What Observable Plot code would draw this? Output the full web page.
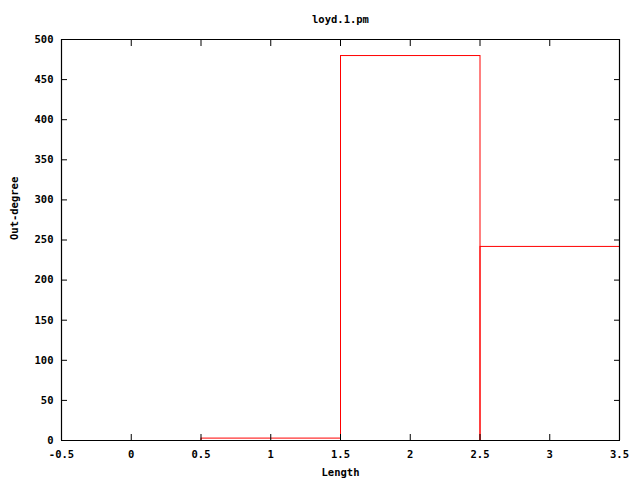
<!DOCTYPE html>
<html>
<head>
<meta charset="utf-8">
<script src="https://cdn.jsdelivr.net/npm/d3@7"></script>
<script src="https://cdn.jsdelivr.net/npm/@observablehq/plot@0.6"></script>
<style>
  body { margin: 0; background: #fff; }
  svg { font-family: "DejaVu Sans Mono", monospace; font-weight: bold; }
</style>
</head>
<body>
<div id="chart"></div>
<script>
const title = "loyd.1.pm";
const lengths = [1, 2, 3];
const outDegree = [3, 480, 242];
const xTicks = [-0.5, 0, 0.5, 1, 1.5, 2, 2.5, 3, 3.5];
const yTicks = [0, 50, 100, 150, 200, 250, 300, 350, 400, 450, 500];

const data = lengths.map((l, i) => ({length: l, value: outDegree[i]}));
const fmt = d => String(d);
const font = {fontSize: 10.5, fontWeight: "bold", fontFamily: "DejaVu Sans Mono, monospace", fill: "black"};

const chart = Plot.plot({
  width: 640,
  height: 480,
  marginLeft: 61,
  marginRight: 21,
  marginTop: 39,
  marginBottom: 40,
  style: {background: "white", fontFamily: "DejaVu Sans Mono, monospace", fontSize: "10px", fontWeight: "bold"},
  x: {domain: [-0.5, 3.5], label: null},
  y: {domain: [0, 500], label: null},
  marks: [
    Plot.rect(data, {x1: d => d.length - 0.5, x2: d => d.length + 0.5, y1: 0, y2: "value", stroke: "red", fill: "none", strokeWidth: 1, dx: 0.5, dy: 0.5}),
    Plot.ruleX([-0.5, 3.5], {stroke: "black", strokeWidth: 1.2}),
    Plot.ruleY([0, 500], {stroke: "black", strokeWidth: 1.2}),
    Plot.axisX({anchor: "bottom", ticks: xTicks, tickSize: -6, tickFormat: () => "", stroke: "black"}),
    Plot.axisX({anchor: "top", ticks: xTicks, tickSize: -6, tickFormat: () => "", stroke: "black"}),
    Plot.axisY({anchor: "left", ticks: yTicks, tickSize: -6, tickFormat: () => "", stroke: "black"}),
    Plot.axisY({anchor: "right", ticks: yTicks, tickSize: -6, tickFormat: () => "", stroke: "black"}),
    Plot.axisX({anchor: "bottom", ticks: xTicks, tickSize: 0, tickPadding: 10, tickFormat: fmt, ...font}),
    Plot.axisY({anchor: "left", ticks: yTicks, tickSize: 0, tickPadding: 8, tickFormat: fmt, ...font}),
    Plot.text([title], {frameAnchor: "top", dy: -24, text: d => d, ...font}),
    Plot.text(["Length"], {frameAnchor: "bottom", dy: 35, text: d => d, ...font}),
    Plot.text(["Out-degree"], {frameAnchor: "left", dx: -47, rotate: -90, text: d => d, ...font})
  ]
});
document.getElementById("chart").appendChild(chart);
</script>
</body>
</html>
